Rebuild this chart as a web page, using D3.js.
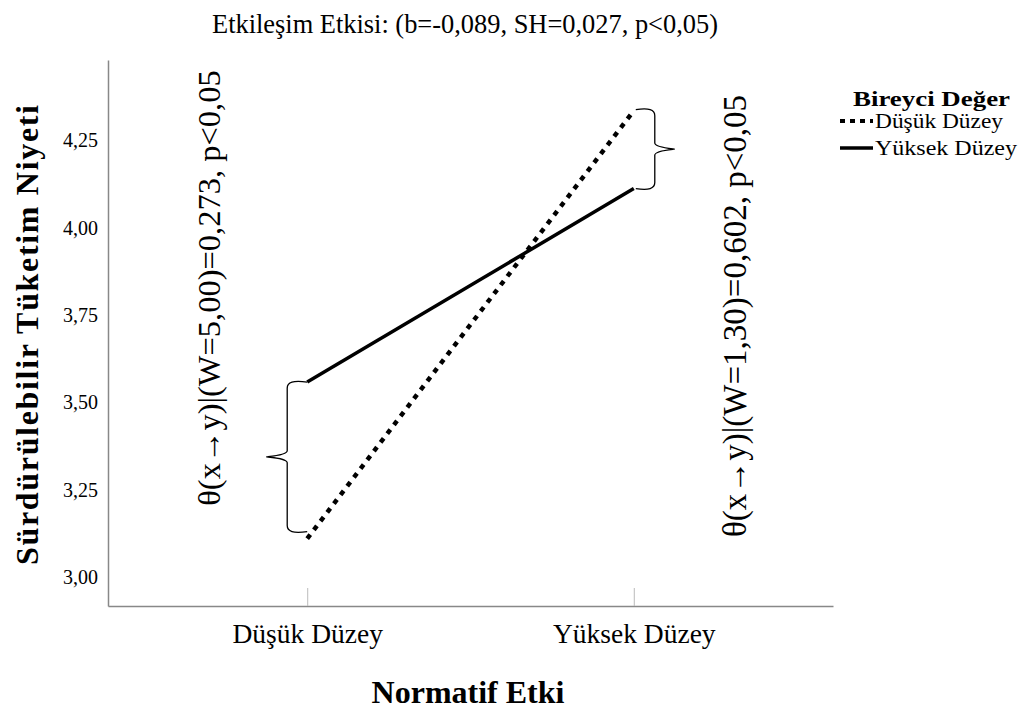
<!DOCTYPE html>
<html>
<head>
<meta charset="utf-8">
<script src="https://cdn.jsdelivr.net/npm/d3@7"></script>
<style>
  body { margin: 0; background: #fff; }
  svg text { font-family: "Liberation Serif", "Times New Roman", serif; fill: #000; }
</style>
</head>
<body>
<svg id="chart" width="1023" height="713"></svg>
<script>
// Simple slopes of the interaction plot
const categories = ["Düşük Düzey", "Yüksek Düzey"];
const seriesNames = ["Düşük Düzey", "Yüksek Düzey"];
const lowValues = [3.11, 4.335];   // Bireyci Değer: Düşük Düzey
const highValues = [3.558, 4.112]; // Bireyci Değer: Yüksek Düzey
const yTicks = [3.00, 3.25, 3.50, 3.75, 4.00, 4.25];

const titleText = "Etkileşim Etkisi: (b=-0,089, SH=0,027, p<0,05)";
const yTitle = "Sürdürülebilir Tüketim Niyeti";
const xTitle = "Normatif Etki";
const legendTitle = "Bireyci Değer";
const leftNote = "θ(x→y)|(W=5,00)=0,273, p<0,05";
const rightNote = "θ(x→y)|(W=1,30)=0,602, p<0,05";

const svg = d3.select("#chart");
const plot = { left: 108, right: 833, top: 60, bottom: 606 };

const x = d3.scalePoint().domain(categories).range([plot.left, plot.right]).padding(0.61);
const y = d3.scaleLinear().domain([2.917, 4.48]).range([plot.bottom, plot.top]);

const fmt = d => d3.format(".2f")(d).replace(".", ",");

// Y axis: line only, labels to the left
const yAxis = svg.append("g").attr("transform", `translate(${plot.left},0)`)
  .call(d3.axisLeft(y).tickValues(yTicks).tickFormat(fmt).tickSize(0).tickPadding(10));
yAxis.select(".domain").attr("stroke", "#888").attr("stroke-width", 1.5);
yAxis.selectAll("text").style("font-family", "Liberation Serif, serif").style("font-size", "20px").attr("fill", "#000");

// X axis: inward ticks
const xAxis = svg.append("g").attr("transform", `translate(0,${plot.bottom})`)
  .call(d3.axisBottom(x).tickSizeInner(-18).tickSizeOuter(0).tickPadding(17));
xAxis.select(".domain").attr("stroke", "#888").attr("stroke-width", 1.5);
xAxis.selectAll(".tick line").attr("stroke", "#bbb").attr("stroke-width", 1);
xAxis.selectAll("text").style("font-family", "Liberation Serif, serif").style("font-size", "27.5px").attr("fill", "#000");

// Lines
const line = d3.line().x((d, i) => x(categories[i])).y(d => y(d));
svg.append("path").datum(highValues).attr("d", line)
  .attr("fill", "none").attr("stroke", "#000").attr("stroke-width", 3.5);
svg.append("path").datum(lowValues).attr("d", line)
  .attr("fill", "none").attr("stroke", "#000").attr("stroke-width", 4.5)
  .attr("stroke-dasharray", "5,6");

// Curly brace spanning y0..y1 at vertical line xv, hooks reaching xh, tip at xt
function brace(xv, xh, xt, y0, y1) {
  const ym = (y0 + y1) / 2;
  const dir = Math.sign(xh - xv);
  const c = 6;
  return `M${xh},${y0} C${xv + dir * 6},${y0 - 2} ${xv},${y0} ${xv},${y0 + c}` +
    ` L${xv},${ym - c} C${xv},${ym - 1} ${xt - dir * 4},${ym} ${xt},${ym}` +
    ` M${xv},${y1 - c} L${xv},${ym + c} C${xv},${ym + 1} ${xt - dir * 4},${ym} ${xt},${ym}` +
    ` M${xh},${y1} C${xv + dir * 6},${y1 + 2} ${xv},${y1} ${xv},${y1 - c}`;
}
const x0 = x(categories[0]), x1 = x(categories[1]);
svg.append("path")
  .attr("d", brace(x0 - 20, x0, x0 - 40, y(highValues[0]), y(lowValues[0]) - 7))
  .attr("fill", "none").attr("stroke", "#000").attr("stroke-width", 1.3);
svg.append("path")
  .attr("d", brace(x1 + 21, x1 + 2, x1 + 40, y(lowValues[1]) - 1, y(highValues[1])))
  .attr("fill", "none").attr("stroke", "#000").attr("stroke-width", 1.3);

// Rotated annotations
svg.append("text").attr("transform", `translate(220,288) rotate(-90)`)
  .attr("text-anchor", "middle").style("font-size", "32.5px").text(leftNote);
svg.append("text").attr("transform", `translate(746,316) rotate(-90)`)
  .attr("text-anchor", "middle").style("font-size", "33px").text(rightNote);

// Titles
svg.append("text").attr("x", 465).attr("y", 33).attr("text-anchor", "middle")
  .attr("textLength", 506).attr("lengthAdjust", "spacingAndGlyphs")
  .style("font-size", "28px").text(titleText);
svg.append("text").attr("transform", `translate(38,335) rotate(-90)`)
  .attr("text-anchor", "middle").attr("textLength", 460).attr("lengthAdjust", "spacing")
  .style("font-size", "32px").style("font-weight", "bold").text(yTitle);
svg.append("text").attr("x", 468).attr("y", 703).attr("text-anchor", "middle")
  .style("font-size", "32px").style("font-weight", "bold").text(xTitle);

// Legend
const lg = svg.append("g");
lg.append("text").attr("x", 853).attr("y", 106)
  .attr("textLength", 157).attr("lengthAdjust", "spacingAndGlyphs")
  .style("font-size", "22px").style("font-weight", "bold").text(legendTitle);
const styles = [{ dash: "5,5", w: 4 }, { dash: null, w: 3.5 }];
const itemWidths = [128, 142];
seriesNames.forEach((name, i) => {
  const yy = 121 + i * 27;
  lg.append("line").attr("x1", 840).attr("x2", 873).attr("y1", yy).attr("y2", yy)
    .attr("stroke", "#000").attr("stroke-width", styles[i].w)
    .attr("stroke-dasharray", styles[i].dash);
  lg.append("text").attr("x", 875).attr("y", yy + 7)
    .attr("textLength", itemWidths[i]).attr("lengthAdjust", "spacingAndGlyphs")
    .style("font-size", "21px").text(name);
});
</script>
</body>
</html>
